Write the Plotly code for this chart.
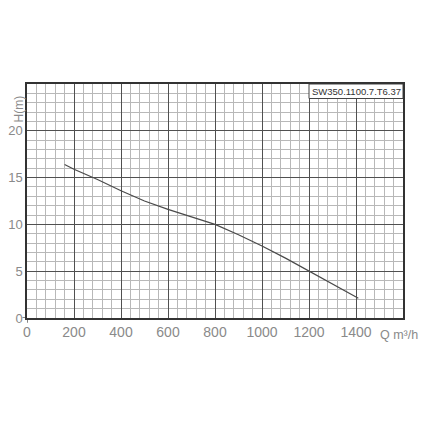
import plotly.graph_objects as go

# Data
flow_q = [160, 200, 300, 400, 500, 600, 700, 800, 900, 1000, 1100, 1200, 1300, 1410]
head_h = [16.4, 15.9, 14.8, 13.6, 12.5, 11.6, 10.8, 10.0, 8.9, 7.7, 6.4, 5.0, 3.6, 2.1]
x_ticks = [0, 200, 400, 600, 800, 1000, 1200, 1400]
y_ticks = [0, 5, 10, 15, 20]
model_label = "SW350.1100.7.T6.37"

TICK_FONT = dict(family="Liberation Sans, Arial", size=14, color="#8a8a8a", weight=300)
YTICK_FONT = dict(family="Liberation Sans, Arial", size=13, color="#8a8a8a", weight=300)

fig = go.Figure()
fig.add_trace(go.Scatter(x=flow_q, y=head_h, mode="lines",
                         line=dict(color="#4a4a4a", width=1.2), showlegend=False,
                         hoverinfo="skip"))

fig.update_layout(
    width=412, height=412,
    margin=dict(l=19, r=17, t=76, b=102, autoexpand=False),
    paper_bgcolor="white", plot_bgcolor="white",
    xaxis=dict(range=[0, 1600], tickvals=x_ticks, ticktext=[str(v) for v in x_ticks],
               showgrid=True, gridcolor="#505050", gridwidth=1.3,
               minor=dict(dtick=40, showgrid=True, gridcolor="#b8b8b8", gridwidth=1),
               showline=True, linecolor="#333333", linewidth=1.5, mirror=True,
               zeroline=False, ticks="", ticklabelstandoff=0, tickfont=TICK_FONT,
               automargin=False, fixedrange=True),
    yaxis=dict(range=[0, 25], tickvals=y_ticks, ticktext=[str(v) for v in y_ticks],
               showgrid=True, gridcolor="#505050", gridwidth=1.3,
               minor=dict(dtick=1, showgrid=True, gridcolor="#b8b8b8", gridwidth=1),
               showline=True, linecolor="#333333", linewidth=1.5, mirror=True,
               zeroline=False, ticks="", ticklabelstandoff=0, tickfont=YTICK_FONT,
               automargin=False, fixedrange=True),
)

# model label box
fig.add_shape(type="rect", xref="x", yref="y", x0=1200, x1=1600, y0=23.45, y1=25,
              fillcolor="white", line=dict(color="#444444", width=1), layer="above")
fig.add_annotation(x=1400, y=24.22, xref="x", yref="y", text=model_label, showarrow=False,
                   font=dict(family="Liberation Sans, Arial", size=9.5, color="#333333"))

# small ticks at origin
fig.add_shape(type="line", xref="paper", yref="y", x0=-0.012, x1=0, y0=0, y1=0,
              line=dict(color="#333333", width=1.2))
fig.add_shape(type="line", xref="x", yref="paper", x0=0, x1=0, y0=-0.02, y1=0,
              line=dict(color="#333333", width=1.2))

# axis titles
fig.add_annotation(xref="paper", yref="paper", x=1.0, y=0, xanchor="left", yanchor="top",
                   xshift=-25, yshift=-8, text="Q m³/h", showarrow=False,
                   font=dict(family="Liberation Sans, Arial", size=12.5,
                             color="#8a8a8a", weight=300))
fig.add_annotation(xref="paper", yref="paper", x=0, y=1, xanchor="center", yanchor="top",
                   xshift=-9, yshift=-10, text="H(m)", textangle=-90, showarrow=False,
                   font=dict(family="Liberation Sans, Arial", size=12,
                             color="#8a8a8a", weight=300))

fig.write_html("out.html")
